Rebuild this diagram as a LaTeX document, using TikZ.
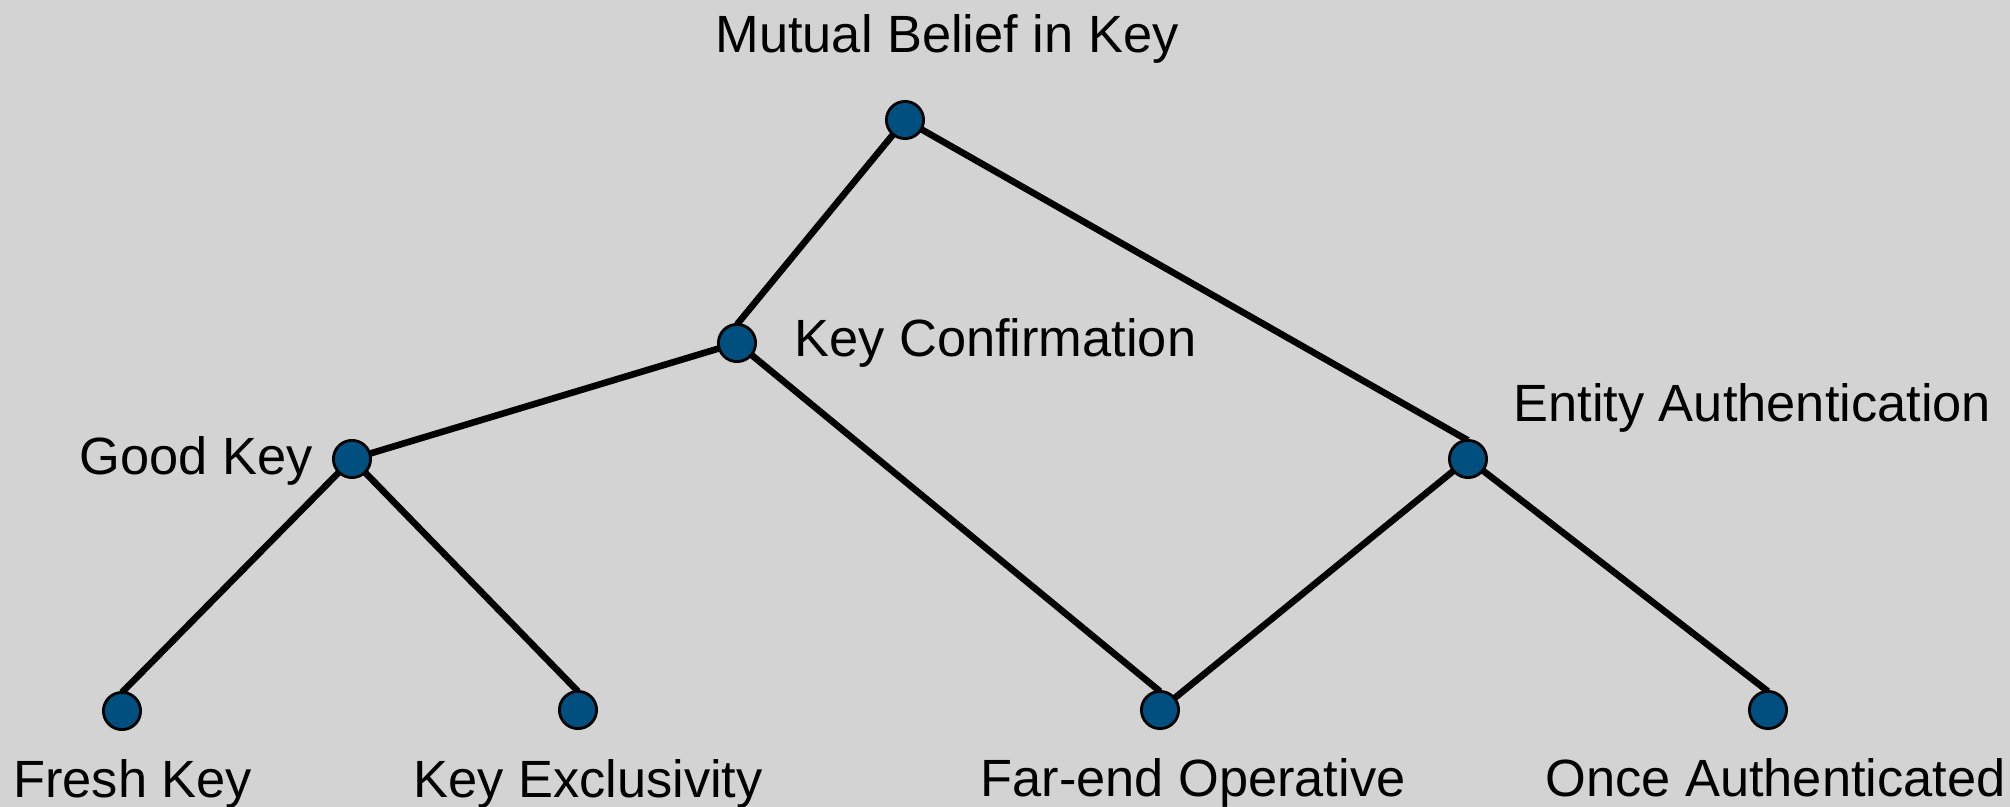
\documentclass[tikz,border=0pt]{standalone}
\usepackage{fontspec}
\setmainfont{Liberation Sans}
\definecolor{bg}{RGB}{211,211,211}
\definecolor{nodeblue}{RGB}{0,79,127}
\pgfdeclarelayer{backlayer}
\pgfdeclarelayer{edgelayer}
\pgfsetlayers{backlayer,edgelayer,main}
\begin{document}
\begin{tikzpicture}[x=0.5pt,y=-0.5pt,
  dot/.style={circle,draw=black,fill=nodeblue,line width=1.4pt,minimum size=18.6pt,inner sep=0pt,outer sep=0pt},
  lbl/.style={anchor=base west,inner sep=0pt,font=\fontsize{26.2pt}{30pt}\selectfont},
  edge/.style={line width=3.3pt,black}]
\begin{pgfonlayer}{backlayer}
\fill[bg] (0,0) rectangle (2010,807);
\end{pgfonlayer}
\useasboundingbox (0,0) rectangle (2010,807);
\node[dot] (mb) at (905,120) {};
\node[dot] (kc) at (737,343) {};
\node[dot] (gk) at (352,459) {};
\node[dot] (ea) at (1468,459) {};
\node[dot] (fk) at (122,711) {};
\node[dot] (ke) at (578,710) {};
\node[dot] (fo) at (1160,710) {};
\node[dot] (oa) at (1768,710) {};
\begin{pgfonlayer}{edgelayer}
\draw[edge] (mb.center) -- (kc.north);
\draw[edge] (mb.center) -- (ea.north);
\draw[edge] (kc.center) -- (gk.center);
\draw[edge] (kc.center) -- (fo.north);
\draw[edge] (gk.center) -- (fk.north);
\draw[edge] (gk.center) -- (ke.north);
\draw[edge] (ea.center) -- (fo.center);
\draw[edge] (ea.center) -- (oa.north);
\end{pgfonlayer}
\node[lbl] (lmb) at (715,53) {Mutual Belief in Key};
\node[lbl] (lkc) at (794,357) {Key Confirmation};
\node[lbl] (lgk) at (79,475) {Good Key};
\node[lbl] (lea) at (1513,422) {Entity Authentication};
\node[lbl] (lfk) at (13,798) {Fresh Key};
\node[lbl] (lke) at (413,798) {Key Exclusivity};
\node[lbl] (lfo) at (980,797) {Far-end Operative};
\node[lbl] (loa) at (1545,797) {Once Authenticated};
\end{tikzpicture}
\end{document}
